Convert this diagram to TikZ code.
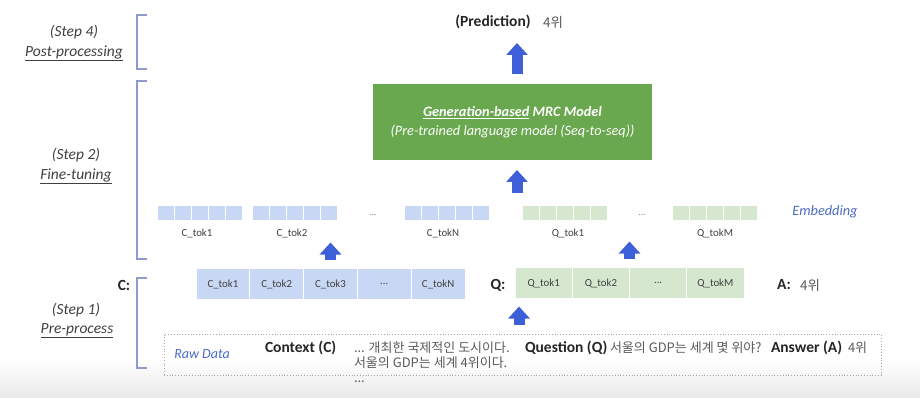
\documentclass[tikz,border=0pt]{standalone}
\usepackage{fontspec}
\setmainfont{Carlito}
\newfontfamily\kr{Noto Sans CJK KR}
\usetikzlibrary{arrows.meta,calc}
\definecolor{tokblue}{HTML}{C8D7F3}
\definecolor{toksgreen}{HTML}{D5E8CF}
\definecolor{modelgreen}{HTML}{6AA84F}
\definecolor{arrowblue}{HTML}{3D60D8}
\definecolor{brk}{HTML}{8E9BCB}
\definecolor{itblue}{HTML}{4A6AC4}
\definecolor{txtgray}{HTML}{404040}
\definecolor{krgray}{HTML}{5A5A5A}
\newcommand{\mydots}{...}
\begin{document}
\begin{tikzpicture}[x=1pt,y=-1pt,
  every node/.style={inner sep=0pt,outer sep=0pt},
  bracketline/.style={draw=brk,line width=1.3pt},
  steplabel/.style={font=\fontsize{15.5}{18}\selectfont\itshape,text=txtgray,align=center},
  barrow/.style={draw=arrowblue,line width=11pt,-{Triangle[width=21pt,length=12pt]}},
  embcell/.style={minimum width=17pt,minimum height=15pt,draw=white,line width=0.8pt},
  tokcell/.style={minimum height=31pt,draw=white,line width=1pt,font=\fontsize{10.8}{12}\selectfont,text=txtgray},
  toklabel/.style={font=\fontsize{10.8}{12}\selectfont,text=txtgray},
  dots/.style={font=\fontsize{9}{10}\selectfont,text=txtgray!70},
  boldlab/.style={font=\fontsize{15.5}{18}\selectfont\bfseries,text=black!85},
  krtext/.style={font=\kr\fontsize{13}{15}\selectfont,text=krgray},
  krans/.style={font=\kr\fontsize{13.5}{15}\selectfont,text=krgray}
]
\useasboundingbox (0,0) rectangle (920,398);
\shade[top color=white,bottom color=black!9] (0,360) rectangle (920,398);

% brackets
\draw[bracketline] (147,15) -- (137,15) -- (137,69) -- (147,69);
\draw[bracketline] (147,81) -- (137,81) -- (137,259) -- (147,259);
\draw[bracketline] (147,278) -- (137,278) -- (137,368) -- (147,368);

% step labels
\node[steplabel] (s4a) at (74,32) {(Step 4)};
\node[steplabel] (s4b) at (74,53) {\underline{Post-processing}};
\node[steplabel] (s2a) at (76,155) {(Step 2)};
\node[steplabel] (s2b) at (76,176) {\underline{Fine-tuning}};
\node[steplabel] (s1a) at (76,310) {(Step 1)};
\node[steplabel] (s1b) at (77,331) {\underline{Pre-process}};

% prediction
\node[boldlab] (pred) at (493,22) {(Prediction)};
\node[krans] (predans) at (553,22) {4위};

% model
\node[fill=modelgreen,minimum width=279pt,minimum height=76pt,text=white,align=center,
      font=\fontsize{14.3}{19}\selectfont\itshape] (model) at (512.5,122)
  {\textbf{\underline{Generation-based} MRC Model}\\(Pre-trained language model (Seq-to-seq))};

% embeddings
\foreach \g/\x/\col in {c1/157/tokblue,c2/252/tokblue,cn/404/tokblue,q1/522/toksgreen,qm/672/toksgreen}{
  \foreach \i in {0,1,2,3,4}{
    \node[embcell,fill=\col] (\g e\i) at ({\x+8.5+17*\i},212.5) {};
  }
}
\node[dots] (cdots) at (373,215) {...};
\node[dots] (qdots) at (642,215) {...};
\node[toklabel] (lc1) at (197,233) {C\_tok1};
\node[toklabel] (lc2) at (292,233) {C\_tok2};
\node[toklabel] (lcn) at (443,233) {C\_tokN};
\node[toklabel] (lq1) at (568,233) {Q\_tok1};
\node[toklabel] (lqm) at (715,233) {Q\_tokM};
\node[font=\fontsize{14.3}{16}\selectfont\itshape,text=itblue] (emb) at (825,212) {Embedding};

% tokens
\node[boldlab] (clab) at (124,285) {C:};
\foreach \t [count=\i] in {C\_tok1,C\_tok2,C\_tok3,\mydots,C\_tokN}{
  \node[tokcell,fill=tokblue,minimum width=53.8pt] (ctok\i) at ({196+26.9+53.8*(\i-1)},284) {\t};
}
\node[boldlab] (qlab) at (498,285) {Q:};
\foreach \t [count=\i] in {Q\_tok1,Q\_tok2,\mydots,Q\_tokM}{
  \node[tokcell,fill=toksgreen,minimum width=57.25pt] (qtok\i) at ({515+28.625+57.25*(\i-1)},283) {\t};
}
\node[boldlab] (alab) at (784,285) {A:};
\node[krans] (aans) at (810,285) {4위};

% raw data
\node[draw=black!35,dotted,line width=0.8pt,minimum width=717pt,minimum height=41pt] (raw) at (522.5,354.5) {};
\node[font=\fontsize{14}{16}\selectfont\itshape,text=itblue] (rawlab) at (202,354) {Raw Data};
\node[boldlab,anchor=base west] (ctx) at (265,352) {Context (C)};
\node[krtext,anchor=base west] (ctxt) at (354,352) {... 개최한 국제적인 도시이다.};
\node[krtext,anchor=base west] (ctxt2) at (354,367) {서울의 GDP는 세계 4위이다.};
\node[krtext,anchor=base west] (ctxt3) at (354,382) {...};
\node[boldlab,anchor=base west] (qst) at (525,352) {Question (Q)};
\node[krtext,anchor=base west] (qtxt) at (610,352) {서울의 GDP는 세계 몇 위야?};
\node[boldlab,anchor=base west] (ans) at (771,352) {Answer (A)};
\node[krtext,anchor=base west] (atxt) at (848,352) {4위};

% block arrows
\coordinate (embtop) at (517,193);
\draw[barrow] ([xshift=4.5pt,yshift=10pt]model.north) -- ([xshift=4.5pt,yshift=41pt]model.north);
\draw[barrow] (embtop) -- ([xshift=4.5pt,yshift=-10pt]model.south);
\draw[barrow] ([yshift=9pt]ctok3.north) -- ([yshift=26pt]ctok3.north);
\draw[barrow] ([yshift=9pt]qtok2.north east) -- ([yshift=26pt]qtok2.north east);
\draw[barrow] ([xshift=-3.5pt,yshift=9pt]raw.north) -- ([xshift=4pt,yshift=-8pt]qtok1.south west);
\end{tikzpicture}
\end{document}
